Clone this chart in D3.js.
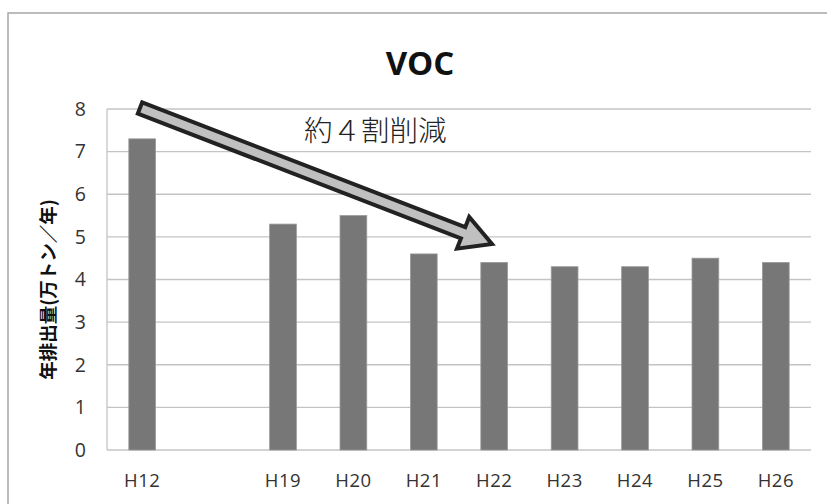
<!DOCTYPE html>
<html><head><meta charset="utf-8">
<script src="https://cdn.jsdelivr.net/npm/d3@7/dist/d3.min.js"></script>
<style>body{margin:0;background:#fff}svg{display:block}</style>
</head><body>
<script>
const categories = ["H12", "", "H19", "H20", "H21", "H22", "H23", "H24", "H25", "H26"];
const values = [7.3, null, 5.3, 5.5, 4.6, 4.4, 4.3, 4.3, 4.5, 4.4];
const yTicks = [0, 1, 2, 3, 4, 5, 6, 7, 8];

const W = 827, H = 504;
const m = {left: 107, right: 16, top: 109, bottom: 54};
const svg = d3.select("body").append("svg").attr("width", W).attr("height", H);

// outer chart frame
svg.append("path").attr("d", `M8,${H}V13H${W}`).attr("fill", "none").attr("stroke", "#a6a6a6").attr("stroke-width", 1.5);

const x = d3.scaleBand().domain(d3.range(categories.length)).range([m.left, W - m.right]).paddingInner(0.62).paddingOuter(0.31);
const y = d3.scaleLinear().domain([0, 8]).range([H - m.bottom, m.top]);

// gridlines
svg.append("g").selectAll("line").data(yTicks).join("line")
  .attr("x1", m.left).attr("x2", W - m.right)
  .attr("y1", d => y(d)).attr("y2", d => y(d))
  .attr("stroke", "#c4c4c4").attr("stroke-width", 1.3);
svg.append("line").attr("x1", m.left).attr("x2", m.left).attr("y1", y(8)).attr("y2", y(0)).attr("stroke", "#c4c4c4").attr("stroke-width", 1.3);

// y axis
const ya = svg.append("g").attr("transform", `translate(${m.left},0)`)
  .call(d3.axisLeft(y).tickValues(yTicks).tickSize(0).tickPadding(21));
ya.select(".domain").remove();
ya.selectAll("text").attr("font-family", "'Open Sans', sans-serif").attr("font-size", 19.5).attr("fill", "#333");

// x axis
const xa = svg.append("g").attr("transform", `translate(0,${y(0)})`)
  .call(d3.axisBottom(x).tickFormat(i => categories[i]).tickSize(0).tickPadding(24));
xa.select(".domain").remove();
xa.selectAll("text").attr("font-family", "'Open Sans', sans-serif").attr("font-size", 18.5).attr("letter-spacing", 0.5).attr("fill", "#333");

// bars
svg.append("g").selectAll("rect").data(values.map((v, i) => ({v, i})).filter(d => d.v != null)).join("rect")
  .attr("x", d => x(d.i)).attr("width", x.bandwidth())
  .attr("y", d => y(d.v)).attr("height", d => y(0) - y(d.v))
  .attr("fill", "#777").attr("stroke", "#9a9a9a").attr("stroke-width", 0.8);

// title
svg.append("text").attr("x", 420).attr("y", 75).attr("text-anchor", "middle")
  .attr("font-family", "'Open Sans', sans-serif").attr("font-weight", 700).attr("font-size", 33).attr("fill", "#111").text("VOC");

// y axis title
svg.append("text").attr("transform", `translate(55,${(y(0) + y(8)) / 2 + 10}) rotate(-90)`).attr("text-anchor", "middle")
  .attr("font-family", "'Noto Sans CJK JP', sans-serif").attr("font-weight", 700).attr("font-size", 18.5).attr("fill", "#111")
  .text("年排出量(万トン／年)");

// downward trend arrow
const p0 = [140, 108], p1 = [492, 244];
const ang = Math.atan2(p1[1] - p0[1], p1[0] - p0[0]);
const len = Math.hypot(p1[0] - p0[0], p1[1] - p0[1]);
const sw = 6, hw = 17, hl = 31;
svg.append("path")
  .attr("transform", `translate(${p0[0]},${p0[1]}) rotate(${ang * 180 / Math.PI})`)
  .attr("d", `M0,${-sw}H${len - hl}V${-hw}L${len},0L${len - hl},${hw}V${sw}H0Z`)
  .attr("fill", "#c0c0c0").attr("stroke", "#222").attr("stroke-width", 4).attr("stroke-linejoin", "miter");

svg.append("text").attr("x", 304).attr("y", 141)
  .attr("font-family", "'Noto Sans CJK JP', serif").attr("font-weight", 300).attr("font-size", 28.5).attr("fill", "#222")
  .text("約４割削減");
</script>
</body></html>
